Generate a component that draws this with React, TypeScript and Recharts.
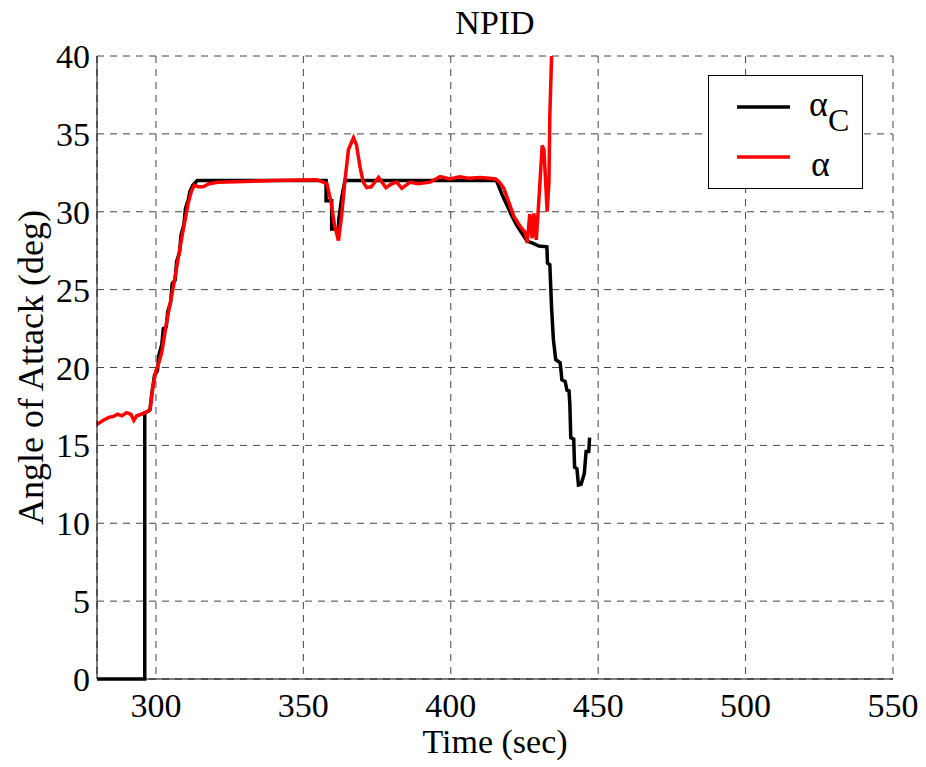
import { LineChart, Line, XAxis, YAxis, CartesianGrid, Legend } from "recharts";

// commanded angle of attack (alpha_C)
const cmdTime = [
  280, 296.2, 296.2, 297.5, 298, 298.5, 299.5, 300.5, 301, 302, 302.5, 303.5, 304, 305, 305.5,
  306.5, 307, 308, 308.5, 309.5, 310, 311, 311.5, 312.5, 314, 357.7, 357.7, 359.6, 359.6, 361.9,
  362, 363, 364.1, 415.5, 417.4, 419.1, 420.8, 422.5, 424.2, 425.9, 427.6, 429.9, 432.6, 432.8,
  433.6, 434.2, 434.8, 435.6, 437.1, 437.7, 438.8, 439.4, 440.1, 440.4, 440.7, 441.7, 442,
  442.8, 443.3, 444.2, 445.3, 445.9, 446.8, 447.1,
];
const cmdAlpha = [
  0, 0, 17.1, 17.2, 17.3, 18.2, 19.5, 19.8, 20.8, 21.5, 22.5, 22.6, 23.6, 24.2, 25.4,
  25.6, 26.8, 27.4, 28.5, 29.2, 30.2, 30.8, 31.3, 31.7, 32, 32, 30.7, 30.7, 28.9, 28.9,
  29.5, 30.9, 32, 32, 31.1, 30.4, 29.7, 29.1, 28.6, 28.1, 28.0, 27.8, 27.75, 26.7,
  26.6, 23.8, 21.8, 20.5, 20.3, 19.2, 19.1, 18.55, 18.5, 17.6, 15.5, 15.4, 13.6,
  13.5, 12.45, 12.5, 13.2, 14.6, 14.6, 15.5,
];

// measured angle of attack (alpha)
const actTime = [
  280, 282, 284, 285.5, 287, 288.5, 290, 291.5, 292.5, 293.5, 295, 296.5, 298, 299, 300,
  301, 302, 303, 304, 305, 306, 307, 308, 309, 310, 311, 312, 313, 314.5, 316, 318, 321,
  330, 340, 354.5, 356, 358, 359.5, 360.5, 361.9, 363, 364.1, 365.3, 367, 368, 369.2,
  370.3, 371.5, 373, 375.5, 378, 380, 381.7, 383.4, 386.2, 389, 393, 396.4, 399.8, 403,
  406, 410, 413, 415.2, 416.5, 418, 419.7, 421.4, 423.1, 424.2, 425.4, 425.9, 426.8,
  427.6, 428.2, 429, 429.9, 431, 431.6, 432.7, 433.3, 433.6, 434.2,
];
const actAlpha = [
  16.35, 16.6, 16.8, 16.85, 17.0, 16.9, 17.1, 17.0, 16.6, 16.9, 17.0, 17.1, 17.3, 18.8, 19.8,
  20.3, 21.0, 22.2, 23.3, 24.3, 25.3, 26.4, 27.5, 28.6, 29.6, 30.6, 31.3, 31.7, 31.6, 31.6, 31.8, 31.9,
  31.95, 32.0, 32.05, 31.95, 31.8, 30.5, 29.2, 28.15, 29.8, 32.0, 34.0, 34.75, 34.3, 32.9,
  31.9, 31.55, 31.6, 32.2, 31.55, 31.8, 31.9, 31.5, 31.9, 31.8, 31.9, 32.25, 32.1, 32.25,
  32.15, 32.2, 32.15, 32.1, 31.9, 31.5, 30.6, 29.7, 29.2, 28.9, 28.6, 28.0, 29.85,
  28.3, 29.9, 28.2, 30.8, 34.25, 34.0, 30.0, 31.9, 36.2, 40,
];

const xTicks = [300, 350, 400, 450, 500, 550];
const yTicks = [0, 5, 10, 15, 20, 25, 30, 35, 40];

const cmdData = cmdTime.map((t, i) => ({ t, v: cmdAlpha[i] }));
const actData = actTime.map((t, i) => ({ t, v: actAlpha[i] }));

const FONT = "'Liberation Serif', 'Times New Roman', serif";
const tickStyle = { fontFamily: FONT, fontSize: 34, fill: "#000" };

function LegendBox() {
  return (
    <svg width={155} height={114} style={{ display: "block" }}>
      <rect x={0.5} y={0.5} width={154} height={113} fill="#fff" stroke="#000" strokeWidth={1} />
      <line x1={29} x2={82} y1={32} y2={32} stroke="#000" strokeWidth={3.5} />
      <line x1={29} x2={82} y1={82} y2={82} stroke="#ff0000" strokeWidth={3.5} />
      <text x={101} y={41} fontFamily={FONT} fontSize={36} fill="#000">
        α
        <tspan dy={15} fontSize={32}>C</tspan>
      </text>
      <text x={103} y={101} fontFamily={FONT} fontSize={36} fill="#000">α</text>
    </svg>
  );
}

export default function App() {
  return (
    <div style={{ position: "absolute", left: 0, top: 0, width: 926, height: 767, background: "#fff" }}>
      <div
        style={{
          position: "absolute",
          left: 97,
          top: 6,
          width: 796,
          textAlign: "center",
          fontFamily: FONT,
          fontSize: 34,
          lineHeight: "34px",
          color: "#000",
        }}
      >
        NPID
      </div>
      <LineChart width={926} height={767} margin={{ top: 56, right: 33, bottom: 0, left: 0 }}>
        <CartesianGrid stroke="#444" strokeDasharray="7 6" strokeWidth={1} />
        <XAxis
          dataKey="t"
          type="number"
          domain={[280, 550]}
          ticks={xTicks}
          height={88}
          tick={tickStyle}
          tickLine={false}
          tickMargin={8}
          axisLine={{ stroke: "#000", strokeWidth: 1 }}
          label={{ value: "Time (sec)", position: "insideBottom", offset: 14, style: tickStyle }}
        />
        <XAxis
          xAxisId="top"
          orientation="top"
          type="number"
          domain={[280, 550]}
          ticks={xTicks}
          height={0}
          tick={false}
          tickLine={false}
          axisLine={{ stroke: "#000", strokeWidth: 1 }}
        />
        <YAxis
          type="number"
          domain={[0, 40]}
          ticks={yTicks}
          width={97}
          tick={tickStyle}
          tickLine={false}
          tickMargin={1}
          axisLine={{ stroke: "#000", strokeWidth: 1 }}
          label={{
            content: (p: any) => {
              const vb = p.viewBox;
              const cx = 43;
              const cy = vb.y + vb.height / 2;
              return (
                <text x={cx} y={cy} textAnchor="middle" transform={`rotate(-90 ${cx} ${cy})`} {...tickStyle} fontSize={36}>
                  Angle of Attack (deg)
                </text>
              );
            },
          }}
        />
        <YAxis
          yAxisId="right"
          orientation="right"
          type="number"
          domain={[0, 40]}
          width={0}
          tick={false}
          tickLine={false}
          axisLine={{ stroke: "#000", strokeWidth: 1 }}
        />
        <Legend
          layout="vertical"
          align="center"
          verticalAlign="middle"
          wrapperStyle={{ left: 708, top: 75, width: 155, height: 114 }}
          content={() => <LegendBox />}
        />
        <Line
          data={cmdData}
          dataKey="v"
          name="alphaC"
          type="linear"
          stroke="#000"
          strokeWidth={3.5}
          dot={false}
          isAnimationActive={false}
        />
        <Line
          data={actData}
          dataKey="v"
          name="alpha"
          type="linear"
          stroke="#ff0000"
          strokeWidth={3.5}
          dot={false}
          isAnimationActive={false}
        />
      </LineChart>
    </div>
  );
}
